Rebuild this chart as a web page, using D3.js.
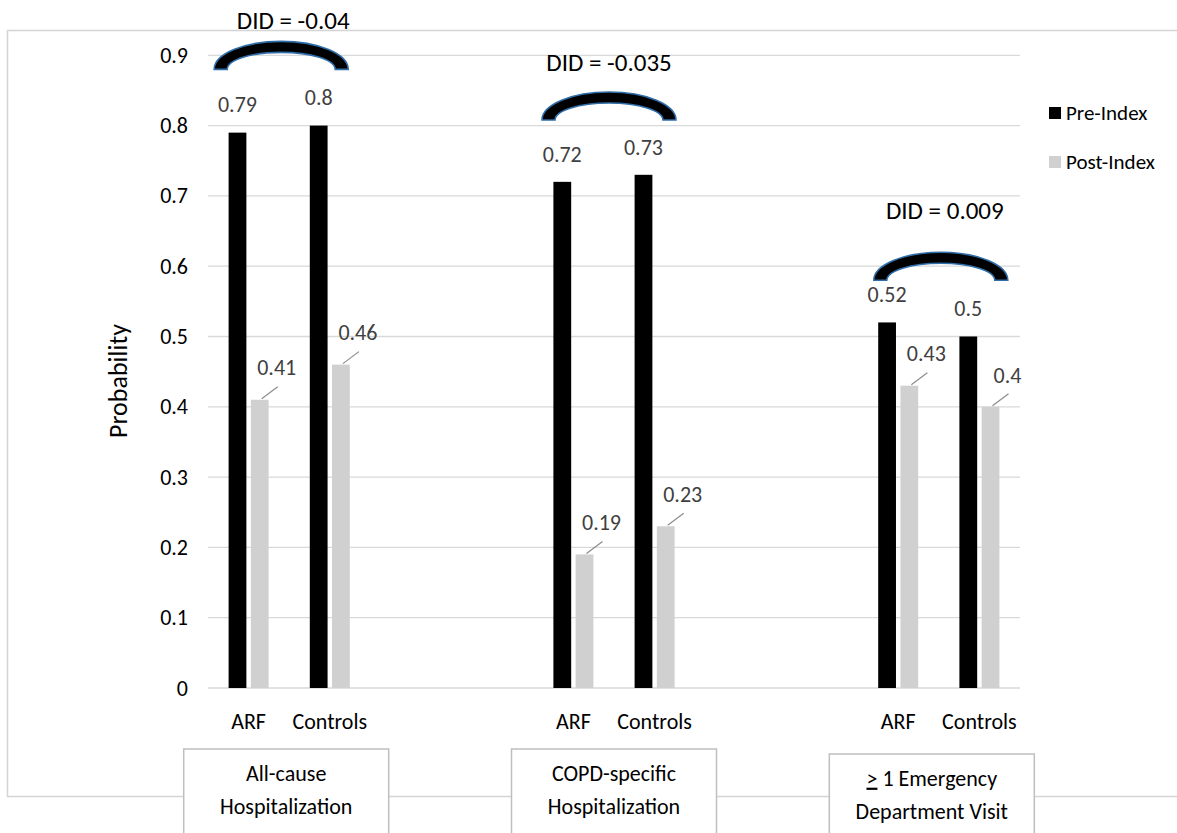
<!DOCTYPE html>
<html>
<head>
<meta charset="utf-8">
<script src="https://cdn.jsdelivr.net/npm/d3@7"></script>
<style>
  html, body { margin: 0; padding: 0; background: #fff; }
  svg text { font-family: Carlito, Calibri, Lato, "Open Sans", sans-serif; }
</style>
</head>
<body>
<svg id="chart" width="1177" height="833"></svg>
<script>
// ---- data ----
const groups = ["All-cause Hospitalization", "COPD-specific Hospitalization", "≥ 1 Emergency Department Visit"];
const groupLines = [["All-cause", "Hospitalization"], ["COPD-specific", "Hospitalization"], ["≥ 1 Emergency", "Department Visit"]];
const cohorts = ["ARF", "Controls"];
const series = ["Pre-Index", "Post-Index"];
// probability per group, [ARF, Controls]
const preIndex  = [[0.79, 0.8], [0.72, 0.73], [0.52, 0.5]];
const postIndex = [[0.41, 0.46], [0.19, 0.23], [0.43, 0.4]];
const didLabels = ["DID = -0.04", "DID = -0.035", "DID = 0.009"];
const yTicks = [0, 0.1, 0.2, 0.3, 0.4, 0.5, 0.6, 0.7, 0.8, 0.9];

// ---- annotation placement (value units for vertical, px offsets horizontally) ----
const arcLevel   = [0.880, 0.808, 0.580];
const arcShift   = [-8, -5, 2];
const didLevel   = [0.950, 0.890, 0.680];
const didShift   = [4, -5, 6];
const boxShift   = [-3, 0, -7];
const boxTop     = [749, 749, 754];

const colors = { "Pre-Index": "#000000", "Post-Index": "#d0d0d0" };

const svg = d3.select("#chart");

// outer frame
svg.append("rect")
  .attr("x", 7.5).attr("y", 30.5).attr("width", 1220).attr("height", 766)
  .attr("fill", "none").attr("stroke", "#d4d4d4").attr("stroke-width", 1.5);

// slots: two cohorts per group, two empty slots between groups
const slots = [];
groups.forEach((g, gi) => {
  cohorts.forEach(c => slots.push(gi + "|" + c));
  if (gi < groups.length - 1) { slots.push(gi + "|gapA"); slots.push(gi + "|gapB"); }
});

const x = d3.scaleBand().domain(slots).range([208, 1020]);
const xs = d3.scaleBand().domain(series).range([-20, 20]).paddingInner(0.2);
const y = d3.scaleLinear().domain([0, 0.9]).range([688, 55.3]);

const cx = (gi, c) => x(gi + "|" + c) + x.bandwidth() / 2;
const groupMid = gi => (cx(gi, cohorts[0]) + cx(gi, cohorts[cohorts.length - 1])) / 2;

// gridlines
svg.append("g").selectAll("line").data(yTicks).join("line")
  .attr("x1", 208).attr("x2", 1020)
  .attr("y1", d => y(d)).attr("y2", d => y(d))
  .attr("stroke", "#d9d9d9").attr("stroke-width", 1.3);

// y axis tick labels
const yAxis = d3.axisLeft(y).tickValues(yTicks).tickSize(0).tickPadding(0).tickFormat(d => d === 0 ? "0" : d3.format(".1f")(d));
const yg = svg.append("g").attr("transform", "translate(188,0)").call(yAxis);
yg.select(".domain").remove();
yg.selectAll("text").attr("font-size", 22).attr("fill", "#000").attr("font-family", "Carlito, Calibri, Lato, sans-serif");

svg.append("text")
  .attr("transform", "translate(127,381) rotate(-90)")
  .attr("text-anchor", "middle").attr("font-size", 26).attr("fill", "#000")
  .text("Probability");

// bars
const bars = [];
groups.forEach((g, gi) => cohorts.forEach((c, ci) => {
  bars.push({ gi, c, s: "Pre-Index", v: preIndex[gi][ci] });
  bars.push({ gi, c, s: "Post-Index", v: postIndex[gi][ci] });
}));

svg.append("g").selectAll("rect").data(bars).join("rect")
  .attr("x", d => cx(d.gi, d.c) + xs(d.s))
  .attr("width", xs.bandwidth())
  .attr("y", d => y(d.v))
  .attr("height", d => y(0) - y(d.v))
  .attr("fill", d => colors[d.s]);

// value labels
const labelG = svg.append("g").attr("font-size", 22).attr("fill", "#404040");
bars.filter(d => d.s === "Pre-Index").forEach(d => {
  labelG.append("text")
    .attr("x", cx(d.gi, d.c) + xs(d.s) + xs.bandwidth() / 2)
    .attr("y", y(d.v) - 28).attr("dy", "0.35em")
    .attr("text-anchor", "middle").text(d3.format("")(d.v));
});
bars.filter(d => d.s === "Post-Index").forEach(d => {
  const bx = cx(d.gi, d.c) + xs(d.s) + xs.bandwidth() / 2;
  const by = y(d.v);
  labelG.append("line")
    .attr("x1", bx + 2).attr("y1", by - 1).attr("x2", bx + 18).attr("y2", by - 13)
    .attr("stroke", "#8c8c8c").attr("stroke-width", 1.2);
  labelG.append("text")
    .attr("x", bx + 17).attr("y", by - 32).attr("dy", "0.35em")
    .attr("text-anchor", "middle").text(d3.format("")(d.v));
});

// cohort labels under the axis
const catG = svg.append("g").attr("font-size", 22).attr("fill", "#000");
groups.forEach((g, gi) => cohorts.forEach(c => {
  catG.append("text").attr("x", cx(gi, c)).attr("y", 721).attr("dy", "0.35em")
    .attr("text-anchor", "middle").text(c);
}));

// DID arcs and labels
const arcPath = (mx, base) => {
  const ro = [67, 28], ri = [54, 17];
  return `M${mx - ro[0]},${base} A${ro[0]},${ro[1]} 0 0 1 ${mx + ro[0]},${base}` +
         ` L${mx + ri[0]},${base} A${ri[0]},${ri[1]} 0 0 0 ${mx - ri[0]},${base} Z`;
};
groups.forEach((g, gi) => {
  const mx = groupMid(gi) + arcShift[gi];
  svg.append("path").attr("d", arcPath(mx, y(arcLevel[gi])))
    .attr("fill", "#000").attr("stroke", "#2f6ea8").attr("stroke-width", 1.6);
  svg.append("text").attr("x", groupMid(gi) + didShift[gi]).attr("y", y(didLevel[gi]))
    .attr("dy", "0.35em").attr("text-anchor", "middle")
    .attr("font-size", 25).attr("fill", "#000").text(didLabels[gi]);
});

// group name boxes
groups.forEach((g, gi) => {
  const bx = groupMid(gi) + boxShift[gi];
  const gb = svg.append("g");
  gb.append("rect").attr("x", bx - 102.5).attr("y", boxTop[gi]).attr("width", 205).attr("height", 100)
    .attr("fill", "#fff").attr("stroke", "#bfbfbf").attr("stroke-width", 1.5);
  groupLines[gi].forEach((line, li) => {
    const t = gb.append("text").attr("x", bx).attr("y", boxTop[gi] + 24 + li * 33)
      .attr("dy", "0.35em").attr("text-anchor", "middle").attr("font-size", 22).attr("fill", "#000");
    if (line.startsWith("≥")) {
      t.append("tspan").attr("text-decoration", "underline").text(">");
      t.append("tspan").text(line.slice(1));
    } else {
      t.text(line);
    }
  });
});

// legend
const lg = svg.append("g").attr("transform", "translate(1049,0)");
series.forEach((s, i) => {
  const ly = 113 + i * 49;
  lg.append("rect").attr("x", 0).attr("y", ly - 6).attr("width", 12).attr("height", 12).attr("fill", colors[s]);
  lg.append("text").attr("x", 17).attr("y", ly).attr("dy", "0.35em")
    .attr("font-size", 21).attr("fill", "#000").text(s);
});
</script>
</body>
</html>
